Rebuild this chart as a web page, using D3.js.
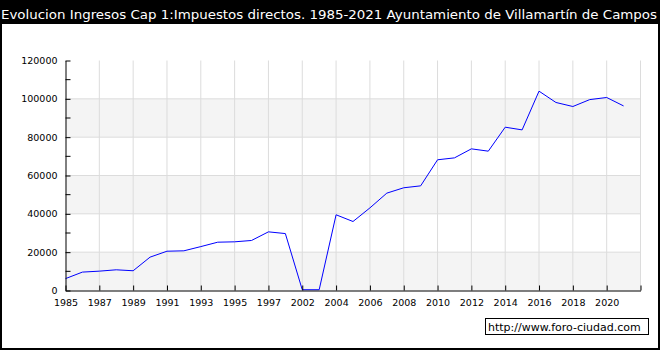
<!DOCTYPE html>
<html>
<head>
<meta charset="utf-8">
<script src="https://cdn.jsdelivr.net/npm/d3@7"></script>
<style>
  body { margin: 0; background: #fff; }
  svg { display: block; font-family: "DejaVu Sans", Verdana, sans-serif; }
</style>
</head>
<body>
<div id="chart"></div>
<script>
// data
const title = 'Evolucion Ingresos Cap 1:Impuestos directos. 1985-2021 Ayuntamiento de Villamartín de Campos';
const years = ['1985', '1986', '1987', '1988', '1989', '1990', '1991', '1992', '1993', '1994',
    '1995', '1996', '1997', '1998', '2002', '2003', '2004', '2005', '2006', '2007', '2008',
    '2009', '2010', '2011', '2012', '2013', '2014', '2015', '2016', '2017', '2018', '2019',
    '2020', '2021'];
const values = [6200, 9600, 10100, 10800, 10300, 17400, 20500, 20700, 22900, 25200,
    25400, 26100, 30600, 29700, 400, 400, 39500, 36000, 43100, 50800, 53600,
    54600, 68200, 69200, 73900, 72700, 85200, 83800, 104000, 98100, 96000, 99600,
    100700, 96300];
const yTicks = [0, 20000, 40000, 60000, 80000, 100000, 120000];
const yMinorTicks = [10000, 30000, 50000, 70000, 90000, 110000];
const watermark = 'http://www.foro-ciudad.com';

const width = 660;
const height = 350;

const svg = d3.select('#chart')
    .append('svg')
    .attr('width', width)
    .attr('height', height);

// frame + title bar
svg.append('rect')
    .attr('x', 1).attr('y', 1)
    .attr('width', width - 2).attr('height', height - 2)
    .attr('fill', '#fff')
    .attr('stroke', '#000')
    .attr('stroke-width', 2);
svg.append('rect')
    .attr('x', 0).attr('y', 0)
    .attr('width', width).attr('height', 24)
    .attr('fill', '#000');
svg.append('text')
    .attr('x', 1)
    .attr('y', 19)
    .attr('fill', '#fff')
    .attr('font-size', 13)
    .attr('textLength', 656)
    .attr('lengthAdjust', 'spacingAndGlyphs')
    .text(title);

// scales: x is by position in the year list, one slot per year
const x = d3.scaleLinear()
    .domain([0, years.length])
    .range([65.5, 640.5]);
const y = d3.scaleLinear()
    .domain([0, 120000])
    .range([290.5, 60.5]);

// alternating bands
const bands = d3.pairs(yTicks).filter((d, i) => i % 2 === 0);
svg.append('g')
    .selectAll('rect')
    .data(bands)
    .join('rect')
    .attr('x', x(0))
    .attr('y', d => y(d[1]))
    .attr('width', x(years.length) - x(0))
    .attr('height', d => y(d[0]) - y(d[1]))
    .attr('fill', '#f4f4f4');

// grid
const xTickIdx = d3.range(0, years.length + 1, 2);
svg.append('g')
    .selectAll('line')
    .data(xTickIdx.slice(1))
    .join('line')
    .attr('x1', d => x(d)).attr('x2', d => x(d))
    .attr('y1', y(120000)).attr('y2', y(0))
    .attr('stroke', '#dcdcdc');
svg.append('g')
    .selectAll('line')
    .data(yTicks.slice(1, -1))
    .join('line')
    .attr('x1', x(0)).attr('x2', x(years.length))
    .attr('y1', d => y(d)).attr('y2', d => y(d))
    .attr('stroke', '#dcdcdc');

// line
const line = d3.line()
    .x((d, i) => x(i))
    .y(d => y(d));
svg.append('path')
    .datum(values)
    .attr('fill', 'none')
    .attr('stroke', '#0000ff')
    .attr('stroke-width', 1)
    .attr('d', line);

// axes
const xAxis = d3.axisBottom(x)
    .tickValues(xTickIdx)
    .tickFormat(i => years[i] || '')
    .tickSize(-5)
    .tickSizeOuter(0)
    .tickPadding(9);
const yAxis = d3.axisLeft(y)
    .tickValues(yTicks)
    .tickFormat(d => d)
    .tickSize(-5)
    .tickSizeOuter(0)
    .tickPadding(8);

const gx = svg.append('g')
    .attr('transform', `translate(0,${y(0)})`)
    .call(xAxis);
const gy = svg.append('g')
    .attr('transform', `translate(${x(0)},0)`)
    .call(yAxis);

// minor y ticks
gy.selectAll('.minor')
    .data(yMinorTicks)
    .join('line')
    .attr('class', 'minor')
    .attr('x1', 0).attr('x2', 5)
    .attr('y1', d => y(d)).attr('y2', d => y(d))
    .attr('stroke', '#000');

[gx, gy].forEach(g => {
    g.selectAll('text')
        .attr('font-family', '"DejaVu Sans", Verdana, sans-serif')
        .attr('font-size', 9.5)
        .attr('fill', '#000');
    g.selectAll('line, path').attr('stroke', '#000');
});

// watermark
svg.append('rect')
    .attr('x', 485.5).attr('y', 318.5)
    .attr('width', 163).attr('height', 16)
    .attr('fill', '#fff')
    .attr('stroke', '#000');
svg.append('text')
    .attr('x', 488)
    .attr('y', 330.5)
    .attr('font-size', 11)
    .attr('fill', '#000')
    .text(watermark);
</script>
</body>
</html>
